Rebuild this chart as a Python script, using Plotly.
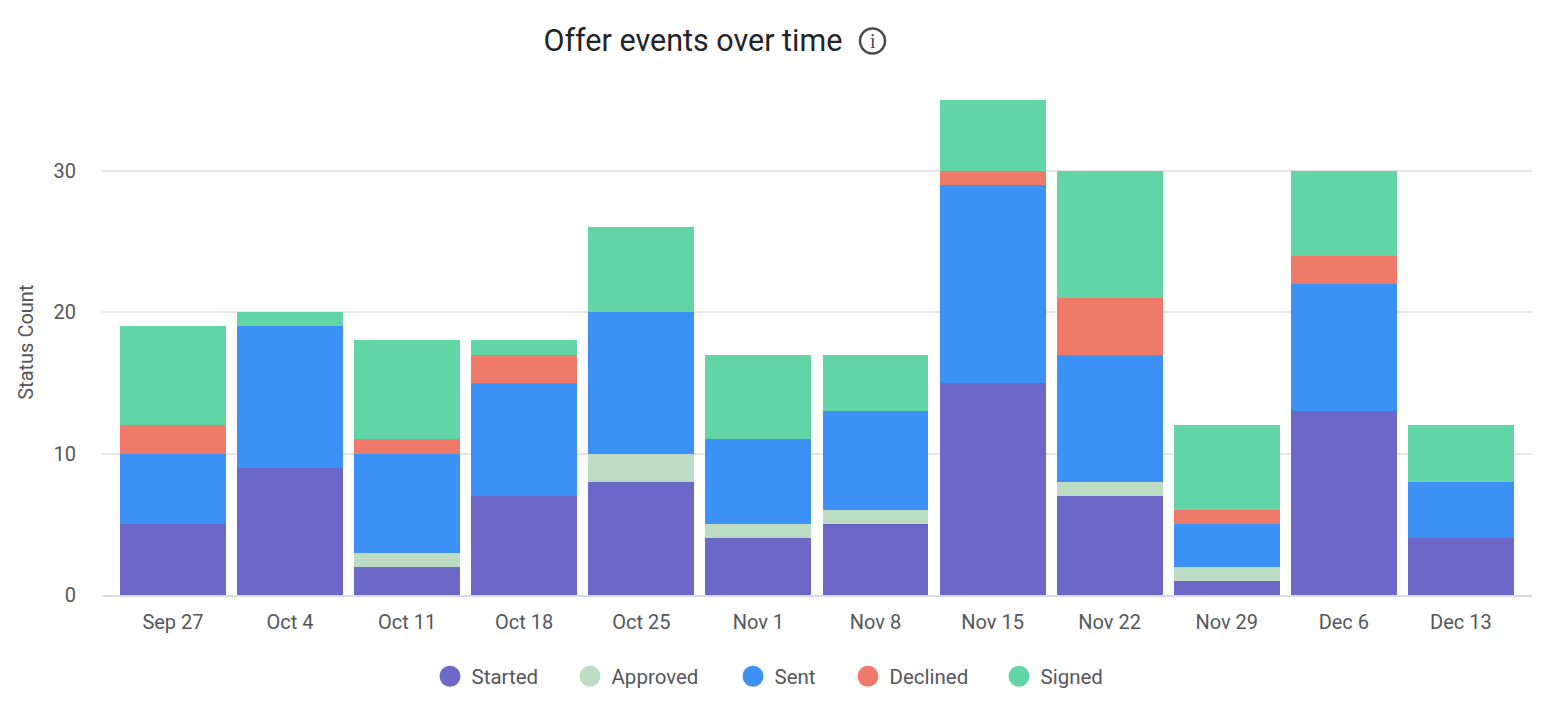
import plotly.graph_objects as go

weeks = ["Sep 27", "Oct 4", "Oct 11", "Oct 18", "Oct 25", "Nov 1", "Nov 8",
         "Nov 15", "Nov 22", "Nov 29", "Dec 6", "Dec 13"]
started = [5, 9, 2, 7, 8, 4, 5, 15, 7, 1, 13, 4]
approved = [0, 0, 1, 0, 2, 1, 1, 0, 1, 1, 0, 0]
sent = [5, 10, 7, 8, 10, 6, 7, 14, 9, 3, 9, 4]
declined = [2, 0, 1, 2, 0, 0, 0, 1, 4, 1, 2, 0]
signed = [7, 1, 7, 1, 6, 6, 4, 5, 9, 6, 6, 4]

# page body has an 8px margin, so everything is measured from there
W, H = 1538, 714
L, R, T, B = 94, 14, 92, 126.5
PW, PH = W - L - R, H - T - B
FONT = "Roboto"
TEXT = "#55565c"
ICON = "#4a4a4e"

series = [
    ("Started", started, "#6c68c8", 450),
    ("Approved", approved, "#bddcc4", 590),
    ("Sent", sent, "#3d91f4", 753),
    ("Declined", declined, "#f07a69", 868),
    ("Signed", signed, "#62d5a6", 1019),
]


def px(x):
    return (x - 8 - L) / PW


def py(y):
    return (H + 8 - B - y) / PH


fig = go.Figure()
legends = {}
for i, (name, values, color, swatch_x) in enumerate(series):
    fig.add_trace(go.Bar(x=weeks, y=values, name=name, showlegend=False,
                         marker=dict(color=color, line_width=0)))
    # bars only get square swatches, so each legend entry is a round marker with its own legend
    key = "legend" if i == 0 else f"legend{i + 1}"
    fig.add_trace(go.Scatter(x=[None], y=[None], mode="markers", name=name, legend=key,
                             marker=dict(color=color, size=16, symbol="circle",
                                         line=dict(color=color, width=5))))
    legends[key] = dict(x=px(swatch_x - 21.5), xanchor="left", y=py(677), yanchor="middle",
                        font=dict(size=20.5, color=TEXT), itemwidth=33, itemclick=False,
                        bgcolor="rgba(0,0,0,0)")

fig.update_layout(
    width=W, height=H,
    barmode="stack", bargap=0.095,
    margin=dict(l=L, r=R, t=T, b=B, autoexpand=False),
    plot_bgcolor="white", paper_bgcolor="white",
    font=dict(family=FONT, size=19, color=TEXT),
    title=dict(text="Offer events over time", font=dict(size=30.5, color="#222327", family=FONT),
               x=(543.5 - 8) / W, xanchor="left", y=1 - 32 / H, yanchor="middle"),
    xaxis=dict(type="category", categoryorder="array", categoryarray=weeks,
               range=[-0.606, 11.607], showgrid=False, showline=True, linecolor="#d8d8ea",
               linewidth=2, ticks="", ticklabelstandoff=8, tickfont=dict(size=20, color=TEXT)),
    yaxis=dict(range=[0, 35], tickvals=[0, 10, 20, 30], gridcolor="#e6e6ea", gridwidth=2,
               zeroline=False, showline=False, ticks="", ticklabelstandoff=25,
               tickfont=dict(size=20, color=TEXT)),
    shapes=[dict(type="circle", xref="paper", yref="paper", line=dict(color=ICON, width=2.5),
                 x0=px(860), x1=px(885), y0=py(53.5), y1=py(28.5))],
    annotations=[
        dict(text="i", xref="paper", yref="paper", showarrow=False,
             xanchor="center", yanchor="middle", x=px(872.5), y=py(41),
             font=dict(size=20, color=ICON, family="Liberation Serif")),
        # axis titles always centre on the axis, this one sits a little above
        dict(text="Status Count", xref="paper", yref="paper", showarrow=False, textangle=-90,
             xanchor="center", yanchor="middle", x=px(26), y=py(343),
             font=dict(size=20, color=TEXT, family=FONT)),
    ],
    **legends,
)
fig.write_html("out.html")
